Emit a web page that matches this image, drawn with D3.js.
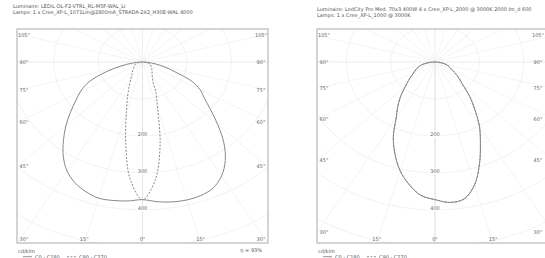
<!DOCTYPE html>
<html>
<head>
<meta charset="utf-8">
<script src="https://cdn.jsdelivr.net/npm/d3@7"></script>
<style>
  html, body { margin: 0; padding: 0; background: #fff; }
  svg { display: block; font-family: "DejaVu Sans", sans-serif; }
</style>
</head>
<body>
<svg id="ldc" width="545" height="258"></svg>
<script>
// gamma angles (deg) and intensities in cd/klm
const gamma = [0, 5, 10, 15, 20, 25, 30, 35, 40, 45, 50, 55, 60, 65, 70, 75, 80, 85, 90];

const leftC0   = [372, 379, 384, 386, 384, 376, 356, 325, 285, 240, 200, 170, 150, 122, 78, 52, 30, 12, 0];
const leftC180 = [372, 377, 380, 381, 373, 360, 340, 311, 277, 244, 212, 184, 162, 138, 102, 65, 36, 14, 0];
const leftC90  = [372, 322, 228, 132, 88, 54, 44, 38, 33, 30, 27, 25, 22, 20, 18, 15, 11, 6, 0];
const leftC270 = [372, 318, 218, 140, 98, 70, 52, 42, 36, 30, 26, 23, 21, 19, 17, 14, 10, 5, 0];

const rightC0   = [372, 381, 376, 344, 293, 242, 200, 156, 122, 90, 72, 58, 46, 38, 32, 26, 18, 9, 0];
const rightC180 = [372, 362, 336, 304, 264, 222, 175, 146, 120, 95, 78, 64, 54, 47, 40, 32, 22, 11, 0];

const ringValues = [100, 200, 300, 400, 500, 600];
const ringLabels = ["200", "300", "400"];
const angleLines = [0, 15, 30, 45, 60, 75, 90, 105, 120, 135, 150, 165, 180];
const angleLabels = [105, 90, 75, 60, 45, 30, 15, 0];

const leftTitle = [
  "Luminaire: LEDiL OL-F2-VTRL_RL-M5F-WAL_LI",
  "Lamps: 1 x Cree_XP-L_1071Lm@2800mA_STRADA-2X2_H30E-WAL 4000"
];
const rightTitle = [
  "Luminaire: LedCity Pro Med. 70x3 400W 4 x Cree_XP-L_2000 @ 3000K 2000 lm_d 600",
  "Lamps: 1 x Cree_XP-L_1000 @ 3000K"
];
const legendNames = ["C0 - C180", "C90 - C270"];

const W = 545;
const svg = d3.select("#ldc");
const frameTop = 29, frameBottom = 243, originY = 62;
const aspect = 1.2;
const r = d3.scaleLinear().domain([0, 100]).range([0, 37]);
const rad = d => d * Math.PI / 180;

function drawPanel(id, cx, x0, x1, title, planes, eta) {
  const g = svg.append("g").attr("id", id);

  g.append("clipPath").attr("id", id + "clip")
    .append("rect")
    .attr("x", x0).attr("y", frameTop)
    .attr("width", x1 - x0).attr("height", frameBottom - frameTop);

  const plot = g.append("g").attr("clip-path", `url(#${id}clip)`);
  const inner = plot.append("g")
    .attr("transform", `translate(${cx},${originY}) scale(${aspect},1)`);

  // grid rings
  inner.selectAll(".ring").data(ringValues).join("circle")
    .attr("class", "ring")
    .attr("r", d => r(d))
    .attr("fill", "none")
    .attr("stroke", "#ededed")
    .attr("stroke-width", 0.7)
    .attr("vector-effect", "non-scaling-stroke");

  // grid spokes, both sides
  const spokes = angleLines.flatMap(a => [a, -a]);
  inner.selectAll(".spoke").data(spokes).join("line")
    .attr("class", "spoke")
    .attr("x1", 0).attr("y1", 0)
    .attr("x2", d => r(1000) * Math.sin(rad(d)))
    .attr("y2", d => r(1000) * Math.cos(rad(d)))
    .attr("stroke", d => Math.abs(d) === 90 || d === 0 ? "#e2e2e2" : "#efefef")
    .attr("stroke-width", 0.7)
    .attr("vector-effect", "non-scaling-stroke");

  // curves
  const line = d3.lineRadial()
    .angle(d => d.a)
    .radius(d => r(d.v))
    .curve(d3.curveCatmullRom);

  planes.forEach(p => {
    const pts = [];
    for (let i = gamma.length - 1; i >= 0; i--) pts.push({ a: Math.PI + rad(gamma[i]), v: p.left[i] });
    for (let i = 1; i < gamma.length; i++) pts.push({ a: Math.PI - rad(gamma[i]), v: p.right[i] });
    inner.append("path")
      .attr("d", line(pts))
      .attr("fill", "none")
      .attr("stroke", "#888")
      .attr("stroke-width", 1)
      .attr("stroke-dasharray", p.dash ? "2,1.5" : null)
      .attr("vector-effect", "non-scaling-stroke");
  });

  // ring value labels along 0 deg
  ringLabels.forEach(t => {
    const y = originY + r(+t) - 1.5;
    g.append("rect").attr("x", cx - 6).attr("y", y - 3).attr("width", 12).attr("height", 6).attr("fill", "#fff");
    g.append("text").attr("x", cx).attr("y", y + 1.8)
      .attr("text-anchor", "middle").attr("font-size", 5).attr("fill", "#666").text(t);
  });

  // frame
  g.append("rect")
    .attr("x", x0).attr("y", frameTop)
    .attr("width", x1 - x0).attr("height", frameBottom - frameTop)
    .attr("fill", "none").attr("stroke", "#aaa").attr("stroke-width", 1);

  // angle labels where rays meet the frame
  angleLabels.forEach(a => {
    [1, -1].forEach(side => {
      if (a === 0 && side === -1) return;
      const dx = side * aspect * Math.sin(rad(a)), dy = Math.cos(rad(a));
      const tx = dx !== 0 ? (dx > 0 ? (x1 - cx) / dx : (x0 - cx) / dx) : Infinity;
      const ty = dy > 0 ? (frameBottom - originY) / dy : (dy < 0 ? (frameTop - originY) / dy : Infinity);
      let x, y;
      if (tx < ty) {
        x = dx > 0 ? x1 - 7 : x0 + 7;
        y = originY + tx * dy;
      } else {
        x = cx + ty * dx;
        y = frameBottom - 4;
      }
      y = Math.max(frameTop + 6, Math.min(frameBottom - 4, y));
      x = Math.max(x0 + 7, Math.min(Math.min(x1, W) - 7, x));
      g.append("text").attr("x", x).attr("y", y + 1.8)
        .attr("text-anchor", "middle").attr("font-size", 5).attr("fill", "#666")
        .text(a + "°");
    });
  });

  // title
  g.selectAll(".title").data(title).join("text")
    .attr("class", "title")
    .attr("x", x0 - (id === "left" ? 4 : 0))
    .attr("y", (d, i) => (id === "left" ? 8 : 11) + i * 6)
    .attr("font-size", 5)
    .attr("fill", "#555")
    .text(d => d);

  // footer
  g.append("text").attr("x", x0 + 1).attr("y", 253)
    .attr("font-size", 5).attr("fill", "#555").text("cd/klm");
  if (eta) {
    g.append("text").attr("x", x1 - 6).attr("y", 252)
      .attr("text-anchor", "end").attr("font-size", 5).attr("fill", "#555").text(eta);
  }
  const lg = g.append("g").attr("transform", `translate(${x0 + 6},258.5)`);
  legendNames.forEach((n, i) => {
    const ox = i * 44;
    lg.append("line").attr("x1", ox).attr("x2", ox + 9).attr("y1", -1.8).attr("y2", -1.8)
      .attr("stroke", "#777").attr("stroke-width", 0.8)
      .attr("stroke-dasharray", i === 1 ? "2,1.5" : null);
    lg.append("text").attr("x", ox + 12).attr("y", 0)
      .attr("font-size", 5).attr("fill", "#555").text(n);
  });
}

drawPanel("left", 142.5, 17, 268, leftTitle, [
  { left: leftC180, right: leftC0, dash: false },
  { left: leftC270, right: leftC90, dash: true }
], "η = 93%");

drawPanel("right", 435, 317, 553, rightTitle, [
  { left: rightC180, right: rightC0, dash: false },
  { left: rightC180, right: rightC0, dash: true }
], null);
</script>
</body>
</html>
